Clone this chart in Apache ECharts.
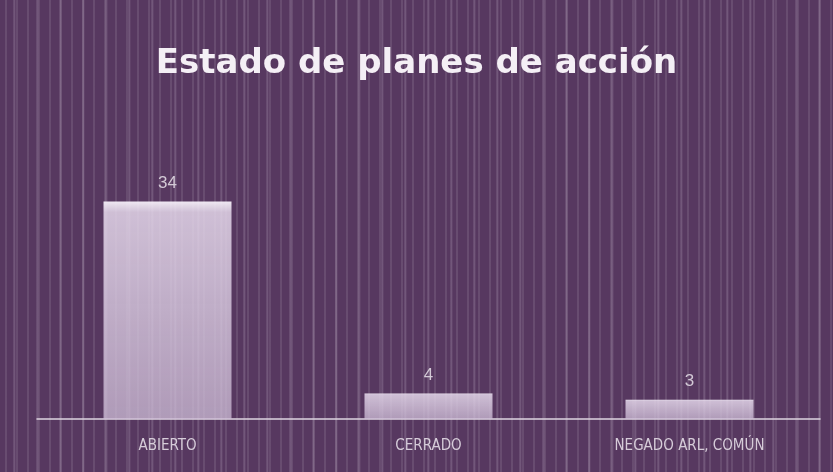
<!DOCTYPE html>
<html><head><meta charset="utf-8">
<script src="https://cdn.jsdelivr.net/npm/echarts@6/dist/echarts.min.js"></script>
<style>
html,body{margin:0;padding:0;}
#c{width:833px;height:472px;
background-color:#573860;
background-image:
repeating-linear-gradient(90deg, rgba(255,255,255,0.00) 0px, rgba(255,255,255,0.00) 5px, rgba(255,255,255,0.20) 6px, rgba(255,255,255,0.00) 7px, rgba(255,255,255,0.00) 11px),
repeating-linear-gradient(90deg, rgba(230,220,235,0.0) 0px, rgba(230,220,235,0.0) 13px, rgba(230,220,235,0.25) 14px, rgba(230,220,235,0.0) 16px, rgba(230,220,235,0.0) 23px);
}
</style></head>
<body><div id="c"></div>
<script>
var categories = ["ABIERTO", "CERRADO", "NEGADO ARL, COMÚN"];
var values = [34, 4, 3];
var titleText = "Estado de planes de acción";

var chart = echarts.init(document.getElementById('c'), null, {renderer:'canvas'});
chart.setOption({
  backgroundColor: 'transparent',
  title: {
    text: titleText, left: 'center', top: 42,
    textStyle: {color:'#f4eff5', fontSize: 34, fontWeight:'bold', fontFamily:'DejaVu Sans'}
  },
  grid: {left: 37, right: 13, top: 163, bottom: 53},
  xAxis: {
    type:'category', data: categories,
    axisLine: {show:true, lineStyle:{color:'#ddd3e0', width:1.5}},
    axisTick: {show:false},
    axisLabel: {color:'#d6ccd9', fontSize:15, fontFamily:'DejaVu Sans Condensed, Liberation Sans Narrow, sans-serif', margin: 20}
  },
  yAxis: {type:'value', min:0, max:40, show:false, splitLine:{show:false}},
  series: [{
    type:'bar', data: values, barWidth: 128,
    itemStyle: {
      color: new echarts.graphic.LinearGradient(0,0,0,1,[
        {offset:0, color:'rgba(248,242,250,0.95)'},
        {offset:0.05, color:'rgba(228,215,234,0.85)'},
        {offset:1, color:'rgba(205,188,214,0.75)'}
      ])
    },
    label: {show:true, position:'top', distance: 10, color:'#d3c9d6', fontSize:17, fontFamily:'Liberation Sans, sans-serif'}
  }]
});
</script></body></html>
